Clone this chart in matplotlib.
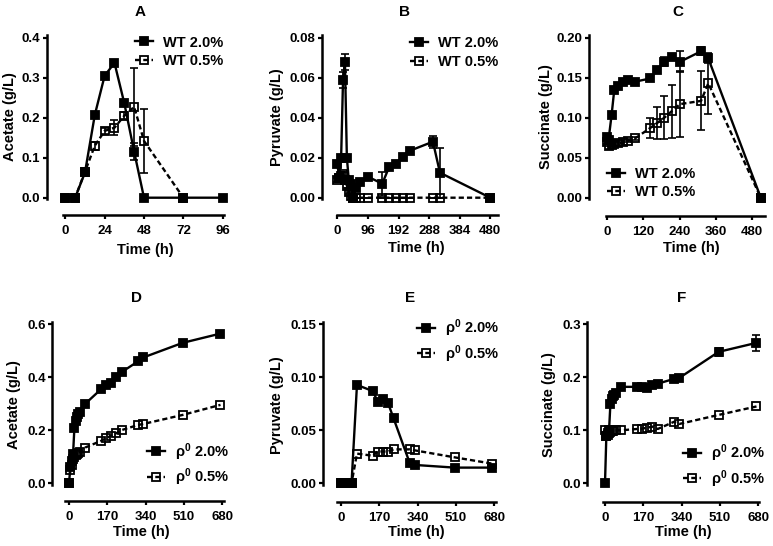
import matplotlib
matplotlib.use('Agg')
import matplotlib.pyplot as plt
from matplotlib.lines import Line2D

plt.rcParams['font.family'] = ['Liberation Sans', 'DejaVu Sans']
plt.rcParams['font.weight'] = 'bold'
plt.rcParams['mathtext.fontset'] = 'custom'
plt.rcParams['mathtext.rm'] = 'Liberation Sans'
plt.rcParams['mathtext.bf'] = 'Liberation Sans:bold'
plt.rcParams['mathtext.it'] = 'Liberation Sans:italic'

# ---------------- data ----------------
# Panel A: acetate, WT
tA_20 = [0, 6, 12, 18, 24, 30, 36, 42, 48, 72, 96]
acA_20 = [0, 0, 0.063, 0.207, 0.305, 0.337, 0.236, 0.115, 0, 0, 0]
acA_20_err = [0, 0, 0.004, 0.005, 0.005, 0.005, 0.006, 0.022, 0, 0, 0]
tA_05 = [0, 6, 12, 18, 24, 30, 36, 42, 48, 72]
acA_05 = [0, 0, 0.065, 0.130, 0.167, 0.175, 0.205, 0.227, 0.142, 0]
acA_05_err = [0, 0, 0.004, 0.010, 0.008, 0.018, 0.008, 0.098, 0.080, 0]

# Panel B: pyruvate, WT
tB = [0, 6, 12, 18, 24, 30, 36, 42, 48, 60, 72, 96, 141, 163, 184, 205, 228, 300, 322, 480]
pyB_20 = [0.017, 0.010, 0.020, 0.059, 0.068, 0.020, 0.009, 0.007, 0.000, 0.005, 0.008,
          0.0105, 0.007, 0.0155, 0.017, 0.0205, 0.0235, 0.028, 0.0125, 0.0]
pyB_20_err = [0.001, 0.001, 0.001, 0.004, 0.004, 0.001, 0.001, 0.001, 0, 0.001, 0.001,
              0.001, 0.006, 0.001, 0.001, 0.001, 0.001, 0.003, 0.0125, 0]
pyB_05 = [0.009, 0.010, 0.011, 0.012, 0.009, 0.006, 0.003, 0.001, 0, 0, 0,
          0, 0, 0, 0, 0, 0, 0, 0, 0]
pyB_05_err = [0.001, 0.001, 0.002, 0.001, 0.001, 0.001, 0.001, 0, 0, 0, 0,
              0, 0, 0, 0, 0, 0, 0, 0, 0]

# Panel C: succinate, WT
tC = [0, 6, 16, 25, 38, 55, 71, 93, 143, 165, 190, 214, 242, 311, 335, 508]
suC_20 = [0.076, 0.072, 0.103, 0.135, 0.140, 0.145, 0.147, 0.145, 0.149, 0.159,
          0.170, 0.176, 0.170, 0.183, 0.174, 0.0]
suC_20_err = [0.004, 0.003, 0.003, 0.003, 0.002, 0.002, 0.002, 0.002, 0.002, 0.003,
              0.006, 0.003, 0.013, 0.005, 0.006, 0.001]
suC_05 = [0.070, 0.064, 0.066, 0.067, 0.068, 0.069, 0.071, 0.074, 0.087, 0.093,
          0.100, 0.108, 0.117, 0.121, 0.143, 0.0]
suC_05_err = [0.003, 0.003, 0.003, 0.003, 0.003, 0.003, 0.002, 0.002, 0.013, 0.020,
              0.027, 0.033, 0.041, 0.037, 0.038, 0.001]

# Panels D-F: rho0 cells
tR = [0, 6, 12, 18, 24, 30, 36, 42, 48, 72, 142, 164, 188, 210, 234, 306, 330, 504, 672]
acD_20 = [0, 0.06, 0.085, 0.11, 0.21, 0.235, 0.25, 0.26, 0.27, 0.30, 0.355, 0.37,
          0.38, 0.40, 0.42, 0.46, 0.475, 0.53, 0.565]
acD_05 = [0.0, 0.05, 0.07, 0.09, 0.10, 0.105, 0.11, 0.115, 0.12, 0.135, 0.160, 0.170,
          0.180, 0.189, 0.201, 0.220, 0.224, 0.258, 0.296]
pyE_20 = [0, 0, 0, 0, 0, 0, 0, 0, 0, 0.0928, 0.087, 0.077, 0.0796, 0.0755, 0.0613,
          0.0189, 0.0173, 0.0148, 0.0148]
pyE_05 = [0, 0, 0, 0, 0, 0, 0, 0, 0, 0.028, 0.026, 0.030, 0.030, 0.030, 0.032,
          0.032, 0.031, 0.0245, 0.0185]
suF_20 = [0, 0.09, 0.095, 0.10, 0.15, 0.16, 0.165, 0.167, 0.17, 0.182, 0.182, 0.182,
          0.180, 0.185, 0.188, 0.197, 0.199, 0.248, 0.265]
suF_20_err = [0, 0.002, 0.002, 0.002, 0.002, 0.002, 0.002, 0.002, 0.002, 0.002, 0.002,
              0.002, 0.002, 0.002, 0.002, 0.002, 0.002, 0.007, 0.015]
suF_05 = [0.10, 0.09, 0.092, 0.095, 0.097, 0.098, 0.099, 0.10, 0.10, 0.10, 0.1025,
          0.103, 0.105, 0.107, 0.1025, 0.116, 0.112, 0.129, 0.145]

wt_labels = ['WT 2.0%', 'WT 0.5%']
rho_labels = [r'$\mathregular{\rho}^{\mathbf{0}}$ 2.0%', r'$\mathregular{\rho}^{\mathbf{0}}$ 0.5%']

# ---------------- layout (pixels) ----------------
W, H = 773, 546
fig = plt.figure(figsize=(W / 100, H / 100), dpi=100)

LW = 1.7
MS = 6.3
MEW = 1.3
DASH = (2.2, 1.3)


def make_axes(s):
    sx = (s['x1'] - s['x0']) / s['x1val']
    sy = (s['y0'] - s['yt']) / s['ytval']
    left_px, right_px = s['yax'], s['xend']
    top_px, bot_px = s['ytop'], s['xb']
    ax = fig.add_axes([left_px / W, 1 - bot_px / H,
                       (right_px - left_px) / W, (bot_px - top_px) / H])
    ax.set_xlim((left_px - s['x0']) / sx, (right_px - s['x0']) / sx)
    ax.set_ylim((s['y0'] - bot_px) / sy, (s['y0'] - top_px) / sy)
    for k in ('top', 'right'):
        ax.spines[k].set_visible(False)
    for k in ('left', 'bottom'):
        ax.spines[k].set_linewidth(1.8)
    ax.spines['bottom'].set_bounds((s['xstart'] - s['x0']) / sx, (s['xend'] - s['x0']) / sx)
    ax.spines['left'].set_bounds((s['y0'] - s['ybot']) / sy, (s['y0'] - s['ytop']) / sy)
    ax.patch.set_visible(False)
    ax.tick_params(axis='both', direction='out', length=3.2, width=1.6, labelsize=9.5)
    ax.tick_params(axis='x', pad=4)
    ax.tick_params(axis='y', pad=1.5)
    return ax


def series(ax, t, v, err, filled):
    if err is not None:
        eb = ax.errorbar(t, v, yerr=err, fmt='none', ecolor='black', elinewidth=1.2,
                         capsize=2.8, capthick=1.2, zorder=2)
        for art in eb.get_children():
            art.set_clip_on(False)
    if filled:
        ax.plot(t, v, '-', color='black', lw=LW, marker='s', ms=MS, mfc='black',
                mec='black', mew=MEW, clip_on=False, zorder=4)
    else:
        ax.plot(t, v, '--', dashes=DASH, color='black', lw=LW, marker='s', ms=MS,
                mfc='none', mec='black', mew=MEW, clip_on=False, zorder=3)


def add_legend(ax, labels, x_px, ymid_px):
    hs = [Line2D([], [], color='black', lw=LW, marker='s', ms=MS, mfc='black', mec='black', mew=MEW),
          Line2D([], [], color='black', lw=LW, ls='--', dashes=DASH, marker='s', ms=MS,
                 mfc='none', mec='black', mew=MEW)]
    ax.legend(hs, labels, loc='center left', bbox_to_anchor=(x_px / W, 1 - ymid_px / H),
              bbox_transform=fig.transFigure, frameon=False, borderpad=0, borderaxespad=0,
              handlelength=1.25, handletextpad=0.7, labelspacing=0.3,
              prop={'weight': 'bold', 'size': 10.5})


def labels(ax, title, tpos, ylabel, ypos, xpos):
    fig.text(tpos[0] / W, 1 - tpos[1] / H, title, ha='center', va='center',
             fontsize=11, fontweight='bold')
    ax.set_ylabel(ylabel, fontsize=10.5, fontweight='bold')
    ax.yaxis.set_label_coords(ypos[0] / W, 1 - ypos[1] / H, transform=fig.transFigure)
    ax.yaxis.label.set_va('center')
    ax.set_xlabel('Time (h)', fontsize=10.5, fontweight='bold')
    ax.xaxis.set_label_coords(xpos[0] / W, 1 - xpos[1] / H, transform=fig.transFigure)
    ax.xaxis.label.set_va('center')


specs = {
    'A': dict(yax=47, x0=65.3, x1=222.7, x1val=96, xstart=63.3, xend=224,
              y0=197.7, yt=37.7, ytval=0.4, ytop=35, ybot=199.3, xb=215),
    'B': dict(yax=321.7, x0=337.3, x1=490.3, x1val=480, xstart=336.7, xend=498.3,
              y0=197.7, yt=37.7, ytval=0.08, ytop=35, ybot=199.3, xb=215),
    'C': dict(yax=589, x0=606.7, x1=752.3, x1val=480, xstart=606, xend=765,
              y0=197.7, yt=37.7, ytval=0.20, ytop=35, ybot=199.3, xb=216),
    'D': dict(yax=52.3, x0=69, x1=222.3, x1val=680, xstart=65, xend=224,
              y0=483.3, yt=324.3, ytval=0.6, ytop=322, ybot=485, xb=500.7),
    'E': dict(yax=323.3, x0=340.7, x1=494.3, x1val=680, xstart=337.3, xend=495.7,
              y0=483.3, yt=324.3, ytval=0.15, ytop=322, ybot=485, xb=501.7),
    'F': dict(yax=587.3, x0=605, x1=758.3, x1val=680, xstart=602.7, xend=759.3,
              y0=483.3, yt=324.3, ytval=0.3, ytop=322, ybot=485, xb=501.7),
}

# ---- A ----
ax = make_axes(specs['A'])
series(ax, tA_05, acA_05, acA_05_err, False)
series(ax, tA_20, acA_20, acA_20_err, True)
ax.set_xticks([0, 24, 48, 72, 96])
ax.set_yticks([0.0, 0.1, 0.2, 0.3, 0.4])
ax.set_yticklabels(['0.0', '0.1', '0.2', '0.3', '0.4'])
add_legend(ax, wt_labels, 135, 51.7)
labels(ax, 'A', (140, 11.7), 'Acetate (g/L)', (10, 116.7), (145, 250))

# ---- B ----
ax = make_axes(specs['B'])
series(ax, tB, pyB_05, pyB_05_err, False)
series(ax, tB, pyB_20, pyB_20_err, True)
ax.set_xticks([0, 96, 192, 288, 384, 480])
ax.set_yticks([0.0, 0.02, 0.04, 0.06, 0.08])
ax.set_yticklabels(['0.00', '0.02', '0.04', '0.06', '0.08'])
add_legend(ax, wt_labels, 410, 52.5)
labels(ax, 'B', (405, 11.7), 'Pyruvate (g/L)', (277.5, 116.7), (416.7, 248.3))

# ---- C ----
ax = make_axes(specs['C'])
series(ax, tC, suC_05, suC_05_err, False)
series(ax, tC, suC_20, suC_20_err, True)
ax.set_xticks([0, 120, 240, 360, 480])
ax.set_yticks([0.0, 0.05, 0.10, 0.15, 0.20])
ax.set_yticklabels(['0.00', '0.05', '0.10', '0.15', '0.20'])
add_legend(ax, wt_labels, 606.7, 183.3)
labels(ax, 'C', (678, 11.7), 'Succinate (g/L)', (545.8, 116.7), (691.7, 248.3))

# ---- D ----
ax = make_axes(specs['D'])
series(ax, tR, acD_05, None, False)
series(ax, tR, acD_20, None, True)
ax.set_xticks([0, 170, 340, 510, 680])
ax.set_yticks([0.0, 0.2, 0.4, 0.6])
ax.set_yticklabels(['0.0', '0.2', '0.4', '0.6'])
add_legend(ax, rho_labels, 146.7, 464.7)
labels(ax, 'D', (136.7, 298.3), 'Acetate (g/L)', (14, 405), (141.7, 531.7))

# ---- E ----
ax = make_axes(specs['E'])
series(ax, tR, pyE_05, None, False)
series(ax, tR, pyE_20, None, True)
ax.set_xticks([0, 170, 340, 510, 680])
ax.set_yticks([0.0, 0.05, 0.10, 0.15])
ax.set_yticklabels(['0.00', '0.05', '0.10', '0.15'])
add_legend(ax, rho_labels, 417, 340.8)
labels(ax, 'E', (410, 298.3), 'Pyruvate (g/L)', (277.5, 405), (416.7, 531.7))

# ---- F ----
ax = make_axes(specs['F'])
series(ax, tR, suF_05, None, False)
series(ax, tR, suF_20, suF_20_err, True)
ax.set_xticks([0, 170, 340, 510, 680])
ax.set_yticks([0.0, 0.1, 0.2, 0.3])
ax.set_yticklabels(['0.0', '0.1', '0.2', '0.3'])
add_legend(ax, rho_labels, 682.7, 465.8)
labels(ax, 'F', (681.7, 298.3), 'Succinate (g/L)', (549, 405), (683.3, 531.7))

fig.savefig('out.png', dpi=100)
